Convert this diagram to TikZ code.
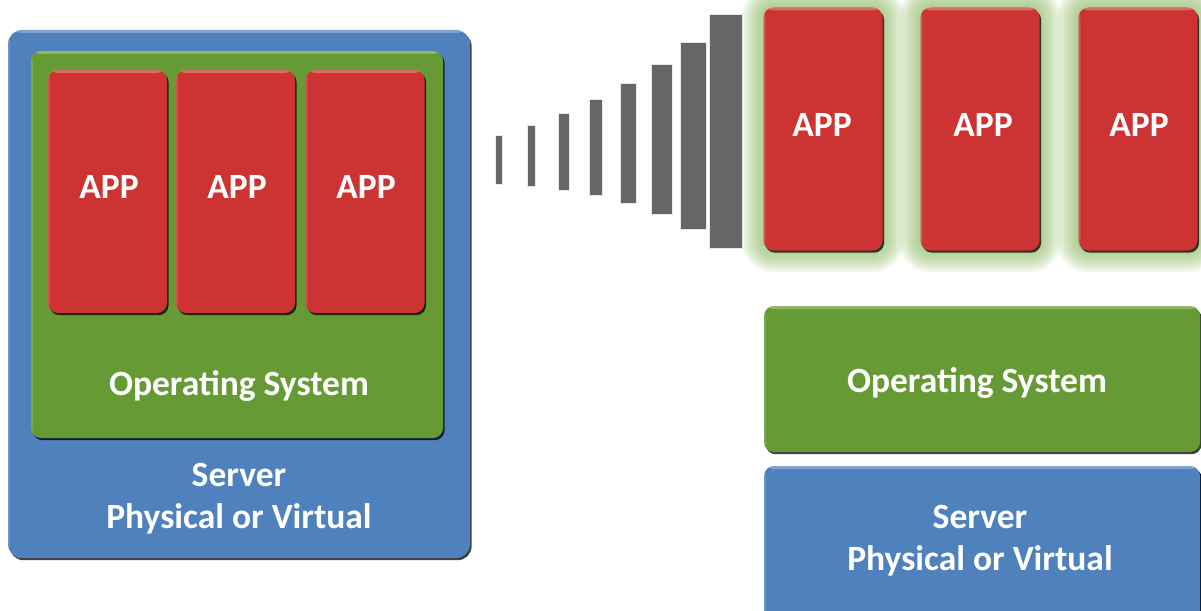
\documentclass[tikz,border=0pt]{standalone}
\usepackage{fontspec}
\setmainfont{Carlito}
\usetikzlibrary{shadows,calc}
\definecolor{srvblue}{HTML}{4F81BD}
\definecolor{osgreen}{HTML}{669A34}
\definecolor{appred}{HTML}{CD3333}
\definecolor{bargray}{HTML}{666666}
\definecolor{glowgreen}{HTML}{8DBA62}
\tikzset{
  panel/.style={draw=none, inner sep=0pt, rounded corners=#1,
    drop shadow={shadow xshift=1.6pt, shadow yshift=-2.2pt, opacity=0.75, fill=black},
    path picture={\fill[white,opacity=0.28] (path picture bounding box.north west) rectangle ([yshift=-3pt]path picture bounding box.north east);
                  \fill[white,opacity=0.15] (path picture bounding box.north west) rectangle ([xshift=2pt]path picture bounding box.south west);}},
  panel/.default=10pt,
  srv/.style={panel=14pt, fill=srvblue},
  os/.style={panel=10pt, fill=osgreen},
  app/.style={panel=10pt, fill=appred, minimum width=119pt, minimum height=243pt},
  lbl/.style={text=white, font=\bfseries\fontsize{35.5}{42}\selectfont, anchor=base, align=center, inner sep=0pt},
  signal/.style={fill=bargray, draw=white!85!bargray, line width=0.6pt}
}
\begin{document}
\begin{tikzpicture}[x=1pt,y=-1pt]
\clip (0,0) rectangle (1201,610);
\fill[white] (0,0) rectangle (1201,610);

% ---------- left stack ----------
\node[srv, minimum width=462pt, minimum height=528pt] (lsrv) at (239,294) {};
\node[os, minimum width=412pt, minimum height=387pt] (los) at (237,244.5) {};
\node[app] (la1) at (107.5,191.5) {};
\node[app] (la2) at (235.5,191.5) {};
\node[app] (la3) at (365,191.5) {};
\node[lbl] (la1t) at (109,198) {APP};
\node[lbl] (la2t) at (237,198) {APP};
\node[lbl] (la3t) at (366,198) {APP};
\node[lbl] (lost) at (239,395) {Operating System};
\node[lbl] (lsrvt) at (239,528) {Server\\Physical or Virtual};

% ---------- signal bars ----------
\foreach \xa/\xb/\ya/\yb [count=\i] in {495/502/135/184, 527/535/125/186, 558/569/113/190, 589/602/99/195,
    620/636/83/203, 651/672/64/214, 680/706/42/229, 709/742/14/248}
  \draw[signal] (\xa,\ya) rectangle (\xb,\yb);

% ---------- glow around right apps ----------
\foreach \cx in {823,980,1138}{
  \foreach \k in {22,20,...,2}{
    \pgfmathsetmacro\rr{10+\k}
    \fill[glowgreen, opacity=0.085, rounded corners=\rr pt] (\cx-59.5-\k,7.5-\k) rectangle (\cx+59.5+\k,250.5+\k);
  }
}

% ---------- right stack ----------
\node[app] (ra1) at (823,129) {};
\node[app] (ra2) at (980,129) {};
\node[app] (ra3) at (1138,129) {};
\node[lbl] (ra1t) at (822,136) {APP};
\node[lbl] (ra2t) at (983,136) {APP};
\node[lbl] (ra3t) at (1139,136) {APP};
\node[os, minimum width=436pt, minimum height=146pt] (ros) at (982,379) {};
\node[lbl] (rost) at (977,392) {Operating System};
\node[srv, panel=10pt, minimum width=436pt, minimum height=170pt] (rsrv) at (982,551) {};
\node[lbl] (rsrvt) at (980,570) {Server\\Physical or Virtual};
\end{tikzpicture}
\end{document}
